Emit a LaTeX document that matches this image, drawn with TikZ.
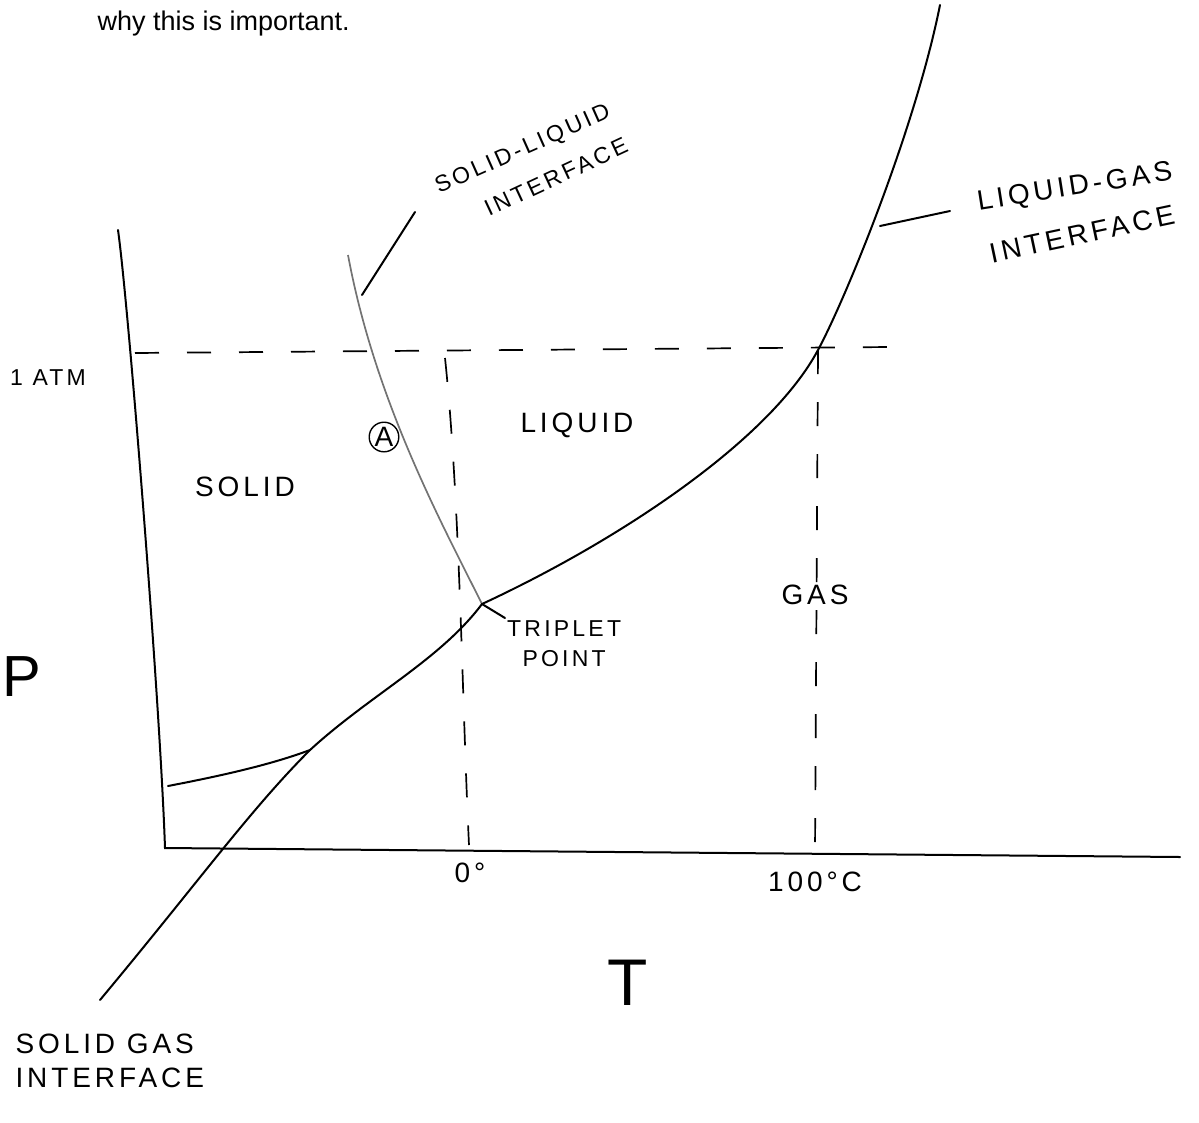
\documentclass[tikz,border=0pt]{standalone}
\usepackage{fontspec}
\setmainfont{Liberation Sans}
\newfontfamily\handfont[LetterSpace=14]{Liberation Sans}
\usepackage{tikz}
\usetikzlibrary{calc}
\tikzset{
  hand/.style={font=\handfont\fontsize{28}{34}\selectfont},
  small hand/.style={font=\handfont\fontsize{23}{30}\selectfont},
  curve/.style={line width=2pt, line cap=round},
  guide/.style={line width=1.7pt, dash pattern=on 24pt off 28pt},
}
\begin{document}
\begin{tikzpicture}[x=1pt, y=-1pt]
      \useasboundingbox (0,0) rectangle (1199,1122);
      \node[anchor=west, font=\fontsize{27}{30}\selectfont] (note) at (94,24) {why this is important.};
      % axes
      \coordinate (ptop) at (118,230);
      \coordinate (org) at (165,848);
      \coordinate (tend) at (1180,857);
      \draw[curve] (ptop) .. controls (128,300) and (160,700) .. (org) -- (tend);
      % triple point and the three interfaces
      \coordinate (trip) at (482,604);
      \coordinate (slend) at (348,255);
      \coordinate (atmcross) at (818,350);
      \coordinate (lgend) at (940,5);
      \coordinate (sgend) at (100,1000);
      \coordinate (sgmid) at (310,750);
      \draw[black!55, line width=1.7pt] (slend) .. controls (375,400) and (440,520) .. (trip);
      \draw[curve] (trip) .. controls (620,540) and (770,440) .. (atmcross)
                   .. controls (845,300) and (915,130) .. (lgend);
      \draw[curve] (sgend) .. controls (200,880) and (250,810) .. (sgmid)
                   .. controls (370,695) and (440,660) .. (trip);
      \coordinate (sglow) at (168,786);
      \draw[curve] (sglow) .. controls (220,776) and (270,765) .. (sgmid);
      % 1 atm, 0 and 100 guides
      \coordinate (atml) at (135,353);
      \coordinate (atmr) at (890,347);
      \draw[guide] (atml) -- (atmr);
      \coordinate (zt) at (445,358);
      \coordinate (zb) at (469,845);
      \draw[guide] (zt) .. controls (460,500) and (462,700) .. (zb);
      \coordinate (hb) at (815,852);
      \draw[guide] (atmcross) -- (hb);
      % region labels
      \node[small hand] (atm) at (48,378) {1 ATM};
      \node[hand] (solid) at (245,487) {SOLID};
      \node[hand] (liquid) at (577,425) {LIQUID};
      \node[hand] (gas) at (815,595) {GAS};
      \node[hand, draw, circle, inner sep=1pt, line width=1.4pt] (ptA) at (384,437) {A};
      \node[font=\fontsize{58}{62}\selectfont] (paxis) at (22,677) {P};
      \node[font=\fontsize{66}{70}\selectfont] (taxis) at (628,983) {T};
      \node[hand] (zero) at (470,873) {0\textdegree};
      \node[hand] (hundred) at (815,882) {100\textdegree C};
      % pointer labels
      \node[small hand, align=center, anchor=north west, inner sep=2pt] (tplab) at (505,618) {TRIPLET\\POINT};
      \node[small hand, rotate=24] (sllab) at (523,150) {SOLID-LIQUID};
      \node[small hand, rotate=25] (slsub) at (556,177) {INTERFACE};
      \node[hand, rotate=9] (lglab) at (1075,188) {LIQUID-GAS};
      \node[hand, rotate=12] (lgsub) at (1082,234) {INTERFACE};
      \node[hand, align=left, anchor=north west] (sglab) at (12,1030) {SOLID GAS\\INTERFACE};
      \coordinate (slpt) at (362,295);
      \coordinate (slfree) at (415,212);
      \draw[curve] (slpt) -- (slfree);
      \coordinate (lgpt) at (880,226);
      \coordinate (lgfree) at (950,211);
      \draw[curve] (lgpt) -- (lgfree);
      \draw[curve] (trip) -- (tplab.north west);
\end{tikzpicture}
\end{document}
